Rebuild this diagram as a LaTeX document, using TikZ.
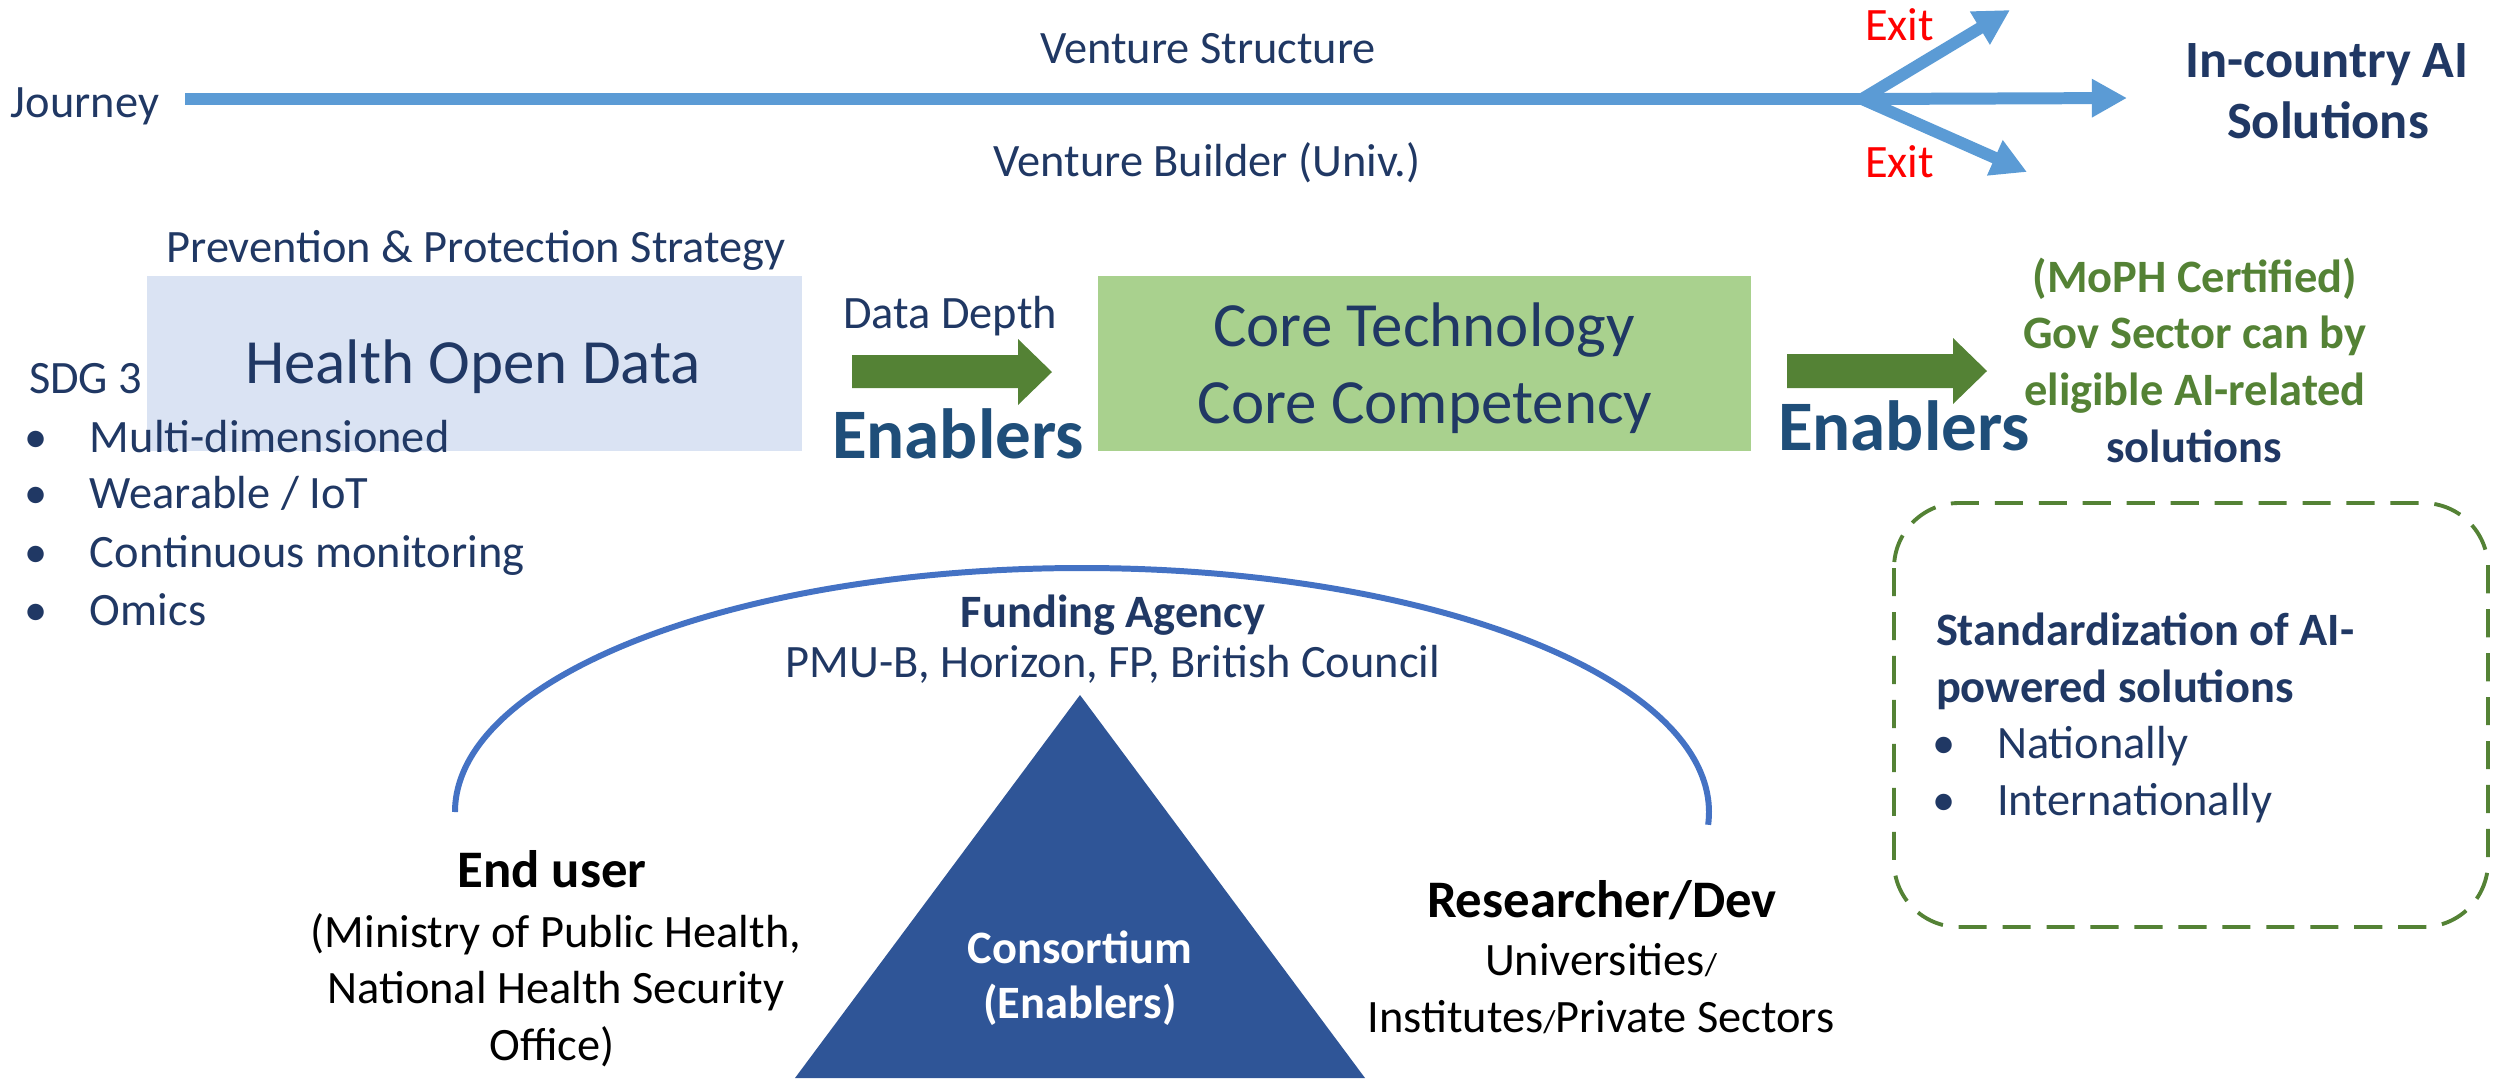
\documentclass[tikz,border=0pt]{standalone}
\usepackage{fontspec}
\setmainfont{Carlito}
\usetikzlibrary{arrows.meta}
\definecolor{navy}{HTML}{203864}
\definecolor{enbl}{HTML}{1F4E79}
\definecolor{ggreen}{HTML}{548235}
\definecolor{jblue}{HTML}{5B9BD5}
\definecolor{arcblue}{HTML}{4472C4}
\definecolor{tricol}{HTML}{2F5597}
\definecolor{hobox}{HTML}{DAE3F3}
\definecolor{corebox}{HTML}{A9D18E}
\begin{document}
\begin{tikzpicture}[x=0.01cm,y=-0.01cm,
  txt/.style={inner sep=0pt, outer sep=0pt, anchor=base, text=navy, font=\fontsize{13.2}{15}\selectfont},
  txtb/.style={txt, font=\fontsize{13.2}{15}\selectfont\bfseries},
  bigtxt/.style={txt, font=\fontsize{17.9}{20}\selectfont},
  enabl/.style={txt, text=enbl, font=\fontsize{20.2}{22}\selectfont\bfseries},
  head/.style={txt, font=\fontsize{14.9}{17}\selectfont\bfseries},
  blk/.style={txt, text=black},
  blkb/.style={txt, text=black, font=\fontsize{15}{17}\selectfont\bfseries},
  greentxt/.style={txtb, text=ggreen},
  exittxt/.style={txt, anchor=base west, text=red},
  jline/.style={draw=jblue, line width=3.41pt},
  jarrow/.style={jline, -{Triangle[length=10pt,width=10.3pt]}},
  garrow/.style={fill=ggreen},
  boxstyle/.style={inner sep=0pt, outer sep=0pt, minimum height=1.75cm}
]
\useasboundingbox (0,0) rectangle (2493,1081);

% ---------- Journey ----------
\node[txt, anchor=base west] (journey) at (11,117) {Journey};
\coordinate (jstart) at (185,99);
\coordinate (branch) at (1862,99);
\coordinate (tipmain) at (2127,98);
\coordinate (tipup) at (2010,10);
\coordinate (tipdown) at (2027,172);
\draw[jline] (jstart) -- (branch);
\draw[jarrow] (branch) -- (tipmain);
\draw[jarrow] (branch) -- (tipup);
\draw[jarrow] (branch) -- (tipdown);
\node[exittxt] (exitup) at (1865,40) {Exit};
\node[exittxt] (exitdown) at (1865,177) {Exit};
\node[txt] (vstruct) at (1208,63) {Venture Structure};
\node[txt] (vbuild) at (1207,176) {Venture Builder (Univ.)};
\node[head] (incountry1) at (2327,77) {In-country AI};
\node[head] (incountry2) at (2328,138) {Solutions};

% ---------- Health Open Data ----------
\node[txt] (prev) at (476,262) {Prevention \& Protection Strategy};
\node[boxstyle, fill=hobox, minimum width=6.55cm] (hod) at (474.5,363.5) {};
\node[bigtxt] (hodtxt) at (473,383) {Health Open Data};
\node[txt, anchor=base west] (sdg) at (29,393) {SDG 3};
\node[txt] (b1) at (36,452) {\textbullet};
\node[txt, anchor=base west] (i1) at (90,452) {Multi-dimensioned};
\node[txt] (b2) at (36,508) {\textbullet};
\node[txt, anchor=base west] (i2) at (90,508) {Wearable / IoT};
\node[txt] (b3) at (36,567) {\textbullet};
\node[txt, anchor=base west] (i3) at (90,567) {Continuous monitoring};
\node[txt] (b4) at (36,625) {\textbullet};
\node[txt, anchor=base west] (i4) at (90,625) {Omics};

% ---------- first block arrow ----------
\node[txt] (ddepth) at (950,328) {Data Depth};
\fill[garrow] (852,355) -- (1018,355) -- (1018,339) -- (1052,372) -- (1018,405) -- (1018,388) -- (852,388) -- cycle;
\node[enabl] (en1) at (958,458) {Enablers};

% ---------- Core ----------
\node[boxstyle, fill=corebox, minimum width=6.53cm] (core) at (1424.5,363.5) {};
\node[bigtxt] (core1) at (1424,346) {Core Technology};
\node[bigtxt] (core2) at (1425,423) {Core Competency};

% ---------- second block arrow ----------
\fill[garrow] (1787,354) -- (1953,354) -- (1953,338) -- (1987,371) -- (1953,404) -- (1953,388) -- (1787,388) -- cycle;
\node[enabl] (en2) at (1904,450) {Enablers};
\node[greentxt] (g1) at (2195,292) {(MoPH Certified)};
\node[greentxt] (g2) at (2195,348) {Gov Sector can by};
\node[greentxt] (g3) at (2195,405) {eligible AI-related};
\node[txtb] (g4) at (2194,462) {solutions};

% ---------- Standardization box ----------
\draw[ggreen, line width=1.1pt, dash pattern=on 8pt off 4.5pt, rounded corners=0.65cm]
  (1894,503) rectangle (2488,927);
\node[txtb, anchor=base west] (std1) at (1936,645) {Standardization of AI-};
\node[txtb, anchor=base west] (std2) at (1936,702) {powered solutions};
\node[txt] (sb1) at (1944,758) {\textbullet};
\node[txt, anchor=base west] (s1) at (1997,758) {Nationally};
\node[txt] (sb2) at (1944,815) {\textbullet};
\node[txt, anchor=base west] (s2) at (1997,815) {Internationally};

% ---------- Consortium ----------
\draw[arcblue, line width=1.7pt] (455,812) arc[start angle=180, end angle=363, x radius=627, y radius=244];
\node[txtb] (fund) at (1113,627) {Funding Agency};
\node[txt] (fund2) at (1113,677) {PMU-B, Horizon, FP, British Council};
\fill[tricol] (1080,695) -- (1365,1078) -- (795,1078) -- cycle;
\node[txtb, text=white] (cons1) at (1080,963) {Consortium};
\node[txtb, text=white] (cons2) at (1080,1018) {(Enablers)};

\node[blkb] (enduser) at (552,887) {End user};
\node[blk] (eu1) at (556,947) {(Ministry of Public Health,};
\node[blk] (eu2) at (556,1003) {National Health Security};
\node[blk] (eu3) at (552,1060) {Office)};

\node[blkb] (res) at (1602,917) {Researcher/Dev};
\node[blk] (r1) at (1601,975) {Universities{\fontsize{9}{9}\selectfont/}};
\node[blk] (r2) at (1601,1032) {Institutes{\fontsize{9}{9}\selectfont/}Private Sectors};
\end{tikzpicture}
\end{document}
